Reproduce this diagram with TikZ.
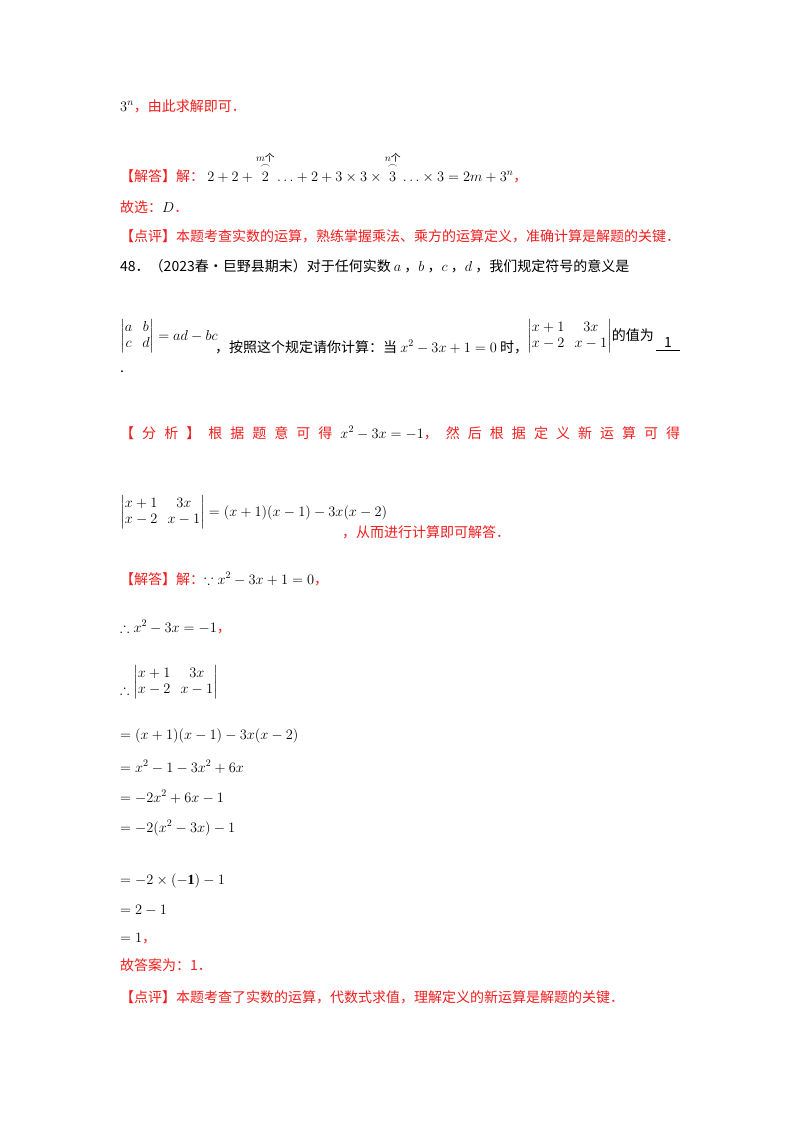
\documentclass[tikz,border=0pt]{standalone}
\usepackage{amsmath,amssymb}
\usepackage{fontspec}
\setmainfont{Liberation Serif}
\newfontfamily\cjk{Noto Sans CJK SC}
\definecolor{rd}{RGB}{240,30,30}
\begin{document}
\begin{tikzpicture}[x=1pt,y=-1pt,
  t/.style={anchor=base west,inner sep=0pt,font=\fontsize{14}{16}\selectfont\cjk},
  r/.style={t,text=rd}]
\useasboundingbox[fill=white] (0,0) rectangle (800,1132);
\node[t] (l1) at (120,111) {$3^n$\textcolor{rd}{，由此求解即可．}};
\node[r] (l2) at (120,181) {【解答】解：\textcolor{black}{\ $2+2+\overset{m\text{个}}{\overset{\frown}{2}}\ldots+2+3\times3\times\overset{n\text{个}}{\overset{\frown}{3}}\ldots\times3=2m+3^n$}，};
\node[r] (l3) at (120,212) {故选：\textcolor{black}{$D$}．};
\node[r] (l4) at (120,241) {【点评】本题考查实数的运算，熟练掌握乘法、乘方的运算定义，准确计算是解题的关键．};
\node[t] (l5) at (120,271) {48．（2023春•巨野县期末）对于任何实数 $a$ ，$b$ ，$c$ ，$d$ ，我们规定符号的意义是};
\node[t] (l6) at (120,340) {$\begin{vmatrix}a&b\\c&d\end{vmatrix}=ad-bc$};
\node[t] (l6b) at (215,352) {，按照这个规定请你计算：当 $x^2-3x+1=0$ 时，};
\node[t] (l6c) at (527,340) {$\begin{vmatrix}x+1&3x\\x-2&x-1\end{vmatrix}$的值为};
\node[t] (ans) at (664,347) {1};
\draw (656,350) -- (680,350);
\node[t] (dot) at (120,372) {.};
\node[r] (l7) at (120,438) {\hbox to 560pt{【\hfill 分\hfill 析\hfill 】\hfill 根\hfill 据\hfill 题\hfill 意\hfill 可\hfill 得\hfill \textcolor{black}{$x^2-3x=-1$}，\hfill 然\hfill 后\hfill 根\hfill 据\hfill 定\hfill 义\hfill 新\hfill 运\hfill 算\hfill 可\hfill 得}};
\node[t] (l8) at (120,516) {$\begin{vmatrix}x+1&3x\\x-2&x-1\end{vmatrix}=(x+1)(x-1)-3x(x-2)$};
\node[r] (l8b) at (342,537) {，从而进行计算即可解答．};
\node[r] (l9) at (120,584) {【解答】解：\textcolor{black}{$\because x^2-3x+1=0$}，};
\node[t] (l10) at (120,632) {$\therefore x^2-3x=-1$\textcolor{rd}{，}};
\node[t] (l11) at (120,694) {$\therefore$};
\node[t] (l11b) at (133,686) {$\begin{vmatrix}x+1&3x\\x-2&x-1\end{vmatrix}$};
\node[t] (l12) at (120,739) {$=(x+1)(x-1)-3x(x-2)$};
\node[t] (l13) at (120,772) {$=x^2-1-3x^2+6x$};
\node[t] (l14) at (120,802) {$=-2x^2+6x-1$};
\node[t] (l15) at (120,832) {$=-2(x^2-3x)-1$};
\node[t] (l16) at (120,884) {$=-2\times(\mathbf{-1})-1$};
\node[t] (l17) at (120,914) {$=2-1$};
\node[t] (l18) at (120,942) {$=1$\textcolor{rd}{，}};
\node[r] (l19) at (120,970) {故答案为：1．};
\node[r] (l20) at (120,1002) {【点评】本题考查了实数的运算，代数式求值，理解定义的新运算是解题的关键．};
\end{tikzpicture}
\end{document}
